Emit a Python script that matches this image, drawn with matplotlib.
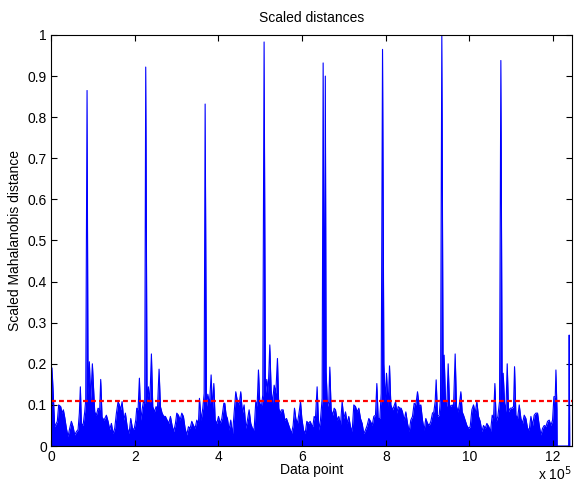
import numpy as np
import matplotlib
matplotlib.use("Agg")
import matplotlib.pyplot as plt

# positions in units of 1e5 data points
point_pos = [
    0.000, 0.024, 0.088, 0.150, 0.183, 0.231, 0.263, 0.295, 0.327, 0.367, 0.406, 0.446, 0.486, 0.526,
    0.566, 0.606, 0.646, 0.677, 0.701, 0.725, 0.765, 0.805, 0.829, 0.861, 0.885, 0.916, 0.948, 0.988,
    1.044, 1.084, 1.124, 1.163, 1.187, 1.219, 1.267, 1.323, 1.363, 1.403, 1.443, 1.482, 1.522, 1.562,
    1.602, 1.634, 1.666, 1.698, 1.738, 1.777, 1.825, 1.865, 1.905, 1.945, 1.985, 2.025, 2.048, 2.080,
    2.112, 2.144, 2.176, 2.207, 2.239, 2.263, 2.295, 2.327, 2.359, 2.399, 2.431, 2.471, 2.511, 2.542,
    2.582, 2.614, 2.654, 2.694, 2.734, 2.774, 2.814, 2.853, 2.893, 2.933, 2.973, 3.005, 3.045, 3.085,
    3.125, 3.164, 3.204, 3.244, 3.284, 3.324, 3.364, 3.404, 3.443, 3.483, 3.523, 3.547, 3.587, 3.627,
    3.659, 3.683, 3.715, 3.747, 3.786, 3.826, 3.858, 3.890, 3.922, 3.962, 4.002, 4.042, 4.082, 4.130,
    4.152, 4.184, 4.215, 4.255, 4.295, 4.335, 4.375, 4.415, 4.455, 4.495, 4.534, 4.574, 4.614, 4.654,
    4.694, 4.734, 4.773, 4.813, 4.853, 4.893, 4.925, 4.957, 4.989, 5.028, 5.060, 5.092, 5.124, 5.156,
    5.188, 5.228, 5.260, 5.292, 5.332, 5.371, 5.411, 5.443, 5.475, 5.507, 5.547, 5.587, 5.627, 5.667,
    5.706, 5.746, 5.786, 5.818, 5.850, 5.890, 5.930, 5.962, 5.994, 6.034, 6.073, 6.113, 6.153, 6.193,
    6.233, 6.256, 6.288, 6.319, 6.359, 6.399, 6.439, 6.479, 6.503, 6.530, 6.555, 6.574, 6.606, 6.638,
    6.662, 6.694, 6.734, 6.766, 6.798, 6.838, 6.877, 6.917, 6.957, 6.997, 7.037, 7.077, 7.116, 7.156,
    7.196, 7.236, 7.276, 7.316, 7.356, 7.395, 7.435, 7.475, 7.515, 7.555, 7.595, 7.635, 7.675, 7.714,
    7.754, 7.786, 7.818, 7.858, 7.890, 7.922, 7.954, 7.986, 8.017, 8.057, 8.089, 8.121, 8.161, 8.193,
    8.233, 8.265, 8.297, 8.337, 8.367, 8.399, 8.439, 8.479, 8.519, 8.559, 8.598, 8.638, 8.678, 8.718,
    8.758, 8.798, 8.837, 8.877, 8.917, 8.957, 8.997, 9.037, 9.077, 9.116, 9.148, 9.180, 9.204, 9.236,
    9.276, 9.308, 9.339, 9.371, 9.395, 9.427, 9.459, 9.491, 9.523, 9.555, 9.587, 9.619, 9.658, 9.690,
    9.730, 9.762, 9.794, 9.826, 9.858, 9.897, 9.937, 9.977, 10.017, 10.057, 10.097, 10.137, 10.176,
    10.216, 10.256, 10.296, 10.336, 10.376, 10.416, 10.463, 10.503, 10.543, 10.575, 10.607, 10.638,
    10.678, 10.718, 10.750, 10.782, 10.806, 10.838, 10.870, 10.902, 10.934, 10.973, 11.013, 11.053,
    11.077, 11.109, 11.149, 11.189, 11.229, 11.268, 11.308, 11.348, 11.388, 11.428, 11.468, 11.508,
    11.547, 11.587, 11.627, 11.667, 11.707, 11.747, 11.787, 11.826, 11.866, 11.906, 11.946, 11.986,
    12.018, 12.050, 12.066, 12.090, 12.095, 12.370, 12.383, 12.396,
]

distance = [
    0.05, 0.19, 0.047, 0.06, 0.10, 0.096, 0.08, 0.088, 0.07, 0.043, 0.023, 0.043, 0.06, 0.047,
    0.027, 0.035, 0.04, 0.08, 0.144, 0.055, 0.05, 0.083, 0.112, 0.865, 0.124, 0.205, 0.112, 0.20,
    0.083, 0.075, 0.092, 0.088, 0.162, 0.07, 0.063, 0.075, 0.06, 0.04, 0.055, 0.03, 0.043, 0.08,
    0.108, 0.10, 0.088, 0.108, 0.063, 0.08, 0.043, 0.03, 0.067, 0.043, 0.04, 0.063, 0.092, 0.088,
    0.165, 0.063, 0.088, 0.108, 0.104, 0.922, 0.108, 0.144, 0.104, 0.224, 0.096, 0.083, 0.096, 0.088,
    0.187, 0.096, 0.08, 0.072, 0.072, 0.063, 0.055, 0.072, 0.05, 0.035, 0.055, 0.08, 0.075, 0.063,
    0.08, 0.072, 0.043, 0.027, 0.047, 0.043, 0.06, 0.05, 0.043, 0.063, 0.055, 0.116, 0.063, 0.092,
    0.128, 0.832, 0.096, 0.126, 0.10, 0.173, 0.088, 0.152, 0.063, 0.055, 0.072, 0.055, 0.067, 0.104,
    0.104, 0.075, 0.067, 0.039, 0.063, 0.027, 0.08, 0.132, 0.108, 0.10, 0.132, 0.08, 0.10, 0.043,
    0.063, 0.088, 0.055, 0.043, 0.039, 0.108, 0.096, 0.185, 0.104, 0.096, 0.124, 0.983, 0.128, 0.162,
    0.128, 0.246, 0.136, 0.104, 0.148, 0.128, 0.213, 0.092, 0.08, 0.088, 0.088, 0.063, 0.067, 0.055,
    0.043, 0.03, 0.05, 0.092, 0.067, 0.055, 0.083, 0.108, 0.067, 0.039, 0.03, 0.06, 0.055, 0.06,
    0.05, 0.047, 0.072, 0.067, 0.144, 0.039, 0.063, 0.116, 0.932, 0.116, 0.90, 0.181, 0.096, 0.108,
    0.192, 0.088, 0.075, 0.092, 0.088, 0.063, 0.072, 0.05, 0.108, 0.067, 0.083, 0.055, 0.072, 0.047,
    0.035, 0.10, 0.096, 0.083, 0.092, 0.067, 0.055, 0.03, 0.039, 0.05, 0.067, 0.06, 0.05, 0.072,
    0.075, 0.152, 0.067, 0.067, 0.128, 0.965, 0.20, 0.108, 0.177, 0.096, 0.195, 0.10, 0.088, 0.096,
    0.108, 0.08, 0.096, 0.092, 0.092, 0.083, 0.063, 0.083, 0.055, 0.035, 0.063, 0.072, 0.104, 0.10,
    0.132, 0.096, 0.10, 0.063, 0.039, 0.067, 0.055, 0.05, 0.06, 0.08, 0.083, 0.108, 0.161, 0.072,
    0.075, 0.116, 1.0, 0.128, 0.221, 0.108, 0.096, 0.20, 0.10, 0.096, 0.10, 0.096, 0.224, 0.096,
    0.083, 0.104, 0.132, 0.083, 0.075, 0.063, 0.05, 0.043, 0.047, 0.088, 0.10, 0.08, 0.108,
    0.072, 0.06, 0.035, 0.05, 0.043, 0.055, 0.047, 0.035, 0.075, 0.067, 0.152, 0.06,
    0.072, 0.108, 0.938, 0.108, 0.177, 0.104, 0.083, 0.20, 0.083, 0.092, 0.092, 0.096,
    0.193, 0.075, 0.067, 0.10, 0.067, 0.055, 0.075, 0.067, 0.043, 0.039, 0.072, 0.05,
    0.075, 0.08, 0.08, 0.05, 0.027, 0.043, 0.05, 0.047, 0.06, 0.063, 0.05, 0.063,
    0.12, 0.12, 0.185, 0.09, 0.0, 0.0, 0.27, 0.0,
]

threshold = 0.11
x_end = 12.45

plt.rcParams['font.family'] = ['Liberation Sans', 'DejaVu Sans']

fig = plt.figure(figsize=(5.74, 4.84), dpi=100)
ax = fig.add_axes([0.0889, 0.0785, 0.9076, 0.8492])

ax.fill_between(point_pos, 0, distance, color='#0000ff', lw=0)
ax.plot(point_pos, distance, color='#0000ff', lw=0.8)
ax.plot([0, x_end], [threshold, threshold], color='red', lw=1.6, ls='--', dashes=(2.2, 1.4))

ax.set_xlim(0, x_end)
ax.set_ylim(0, 1)
ax.set_xticks(range(0, 13, 2))
ax.set_yticks(np.arange(0, 1.01, 0.1))
ax.set_yticklabels(['0', '0.1', '0.2', '0.3', '0.4', '0.5', '0.6', '0.7', '0.8', '0.9', '1'])
ax.tick_params(direction='in', top=True, right=True, labelsize=10, length=4, pad=3)
for s in ax.spines.values():
    s.set_linewidth(0.8)

ax.set_title('Scaled distances', fontsize=10, pad=9)
ax.set_xlabel('Data point', fontsize=10, labelpad=-1)
ax.set_ylabel('Scaled Mahalanobis distance', fontsize=10, labelpad=4)
ax.text(1.0, -0.068, r'x 10$^5$', transform=ax.transAxes, ha='right', va='center', fontsize=10)

fig.savefig('out.png', dpi=100)
